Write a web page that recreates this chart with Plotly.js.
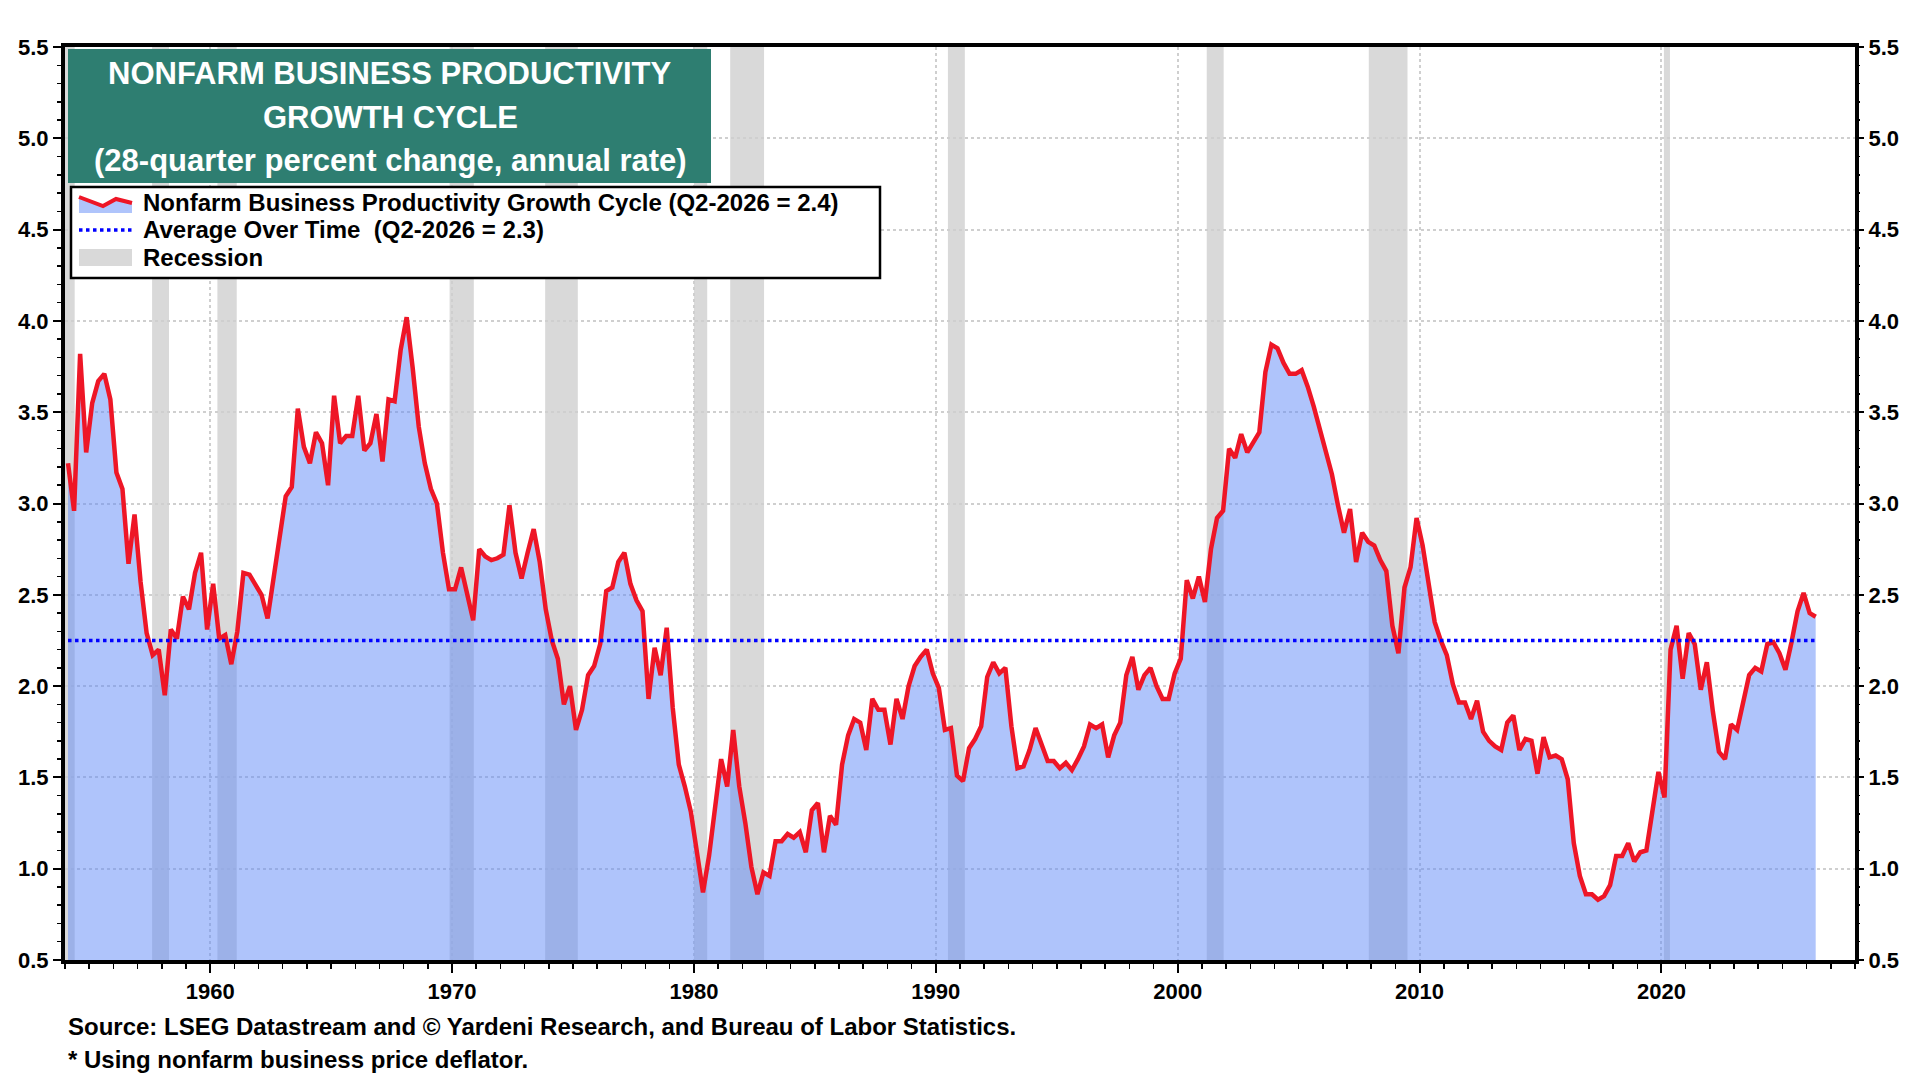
<!DOCTYPE html>
<html>
<head>
<meta charset="utf-8">
<script src="https://cdn.plot.ly/plotly-3.0.1.min.js"></script>
<style>
  html, body { margin: 0; padding: 0; background: #ffffff; }
  #chart { width: 1920px; height: 1080px; }
</style>
</head>
<body>
<div id="chart"></div>
<script>
// quarterly values, 28-quarter % change annual rate, Q1-1954 .. Q2-2026
var startYear = 1954;
var prod1950s = [3.22, 2.96, 3.82, 3.28, 3.55, 3.67, 3.71, 3.57, 3.17, 3.08, 2.67, 2.94,
                 2.57, 2.29, 2.17, 2.20, 1.95, 2.31, 2.26, 2.49, 2.42, 2.62, 2.73, 2.31];
var prod1960s = [2.56, 2.26, 2.28, 2.12, 2.30, 2.62, 2.61, 2.56, 2.50, 2.37, 2.59, 2.78,
                 3.04, 3.09, 3.52, 3.31, 3.22, 3.39, 3.33, 3.10, 3.59, 3.33, 3.37, 3.37,
                 3.59, 3.29, 3.33, 3.49, 3.23, 3.57, 3.56, 3.84, 4.02, 3.74, 3.42, 3.22,
                 3.08, 3.00, 2.73, 2.53];
var prod1970s = [2.53, 2.65, 2.50, 2.36, 2.75, 2.71, 2.69, 2.70, 2.72, 2.99, 2.73, 2.59,
                 2.73, 2.86, 2.68, 2.42, 2.25, 2.15, 1.90, 2.00, 1.76, 1.87, 2.06, 2.11,
                 2.23, 2.52, 2.54, 2.68, 2.73, 2.56, 2.47, 2.41, 1.93, 2.21, 2.06, 2.32,
                 1.88, 1.57, 1.45, 1.31];
var prod1980s = [1.09, 0.87, 1.07, 1.32, 1.60, 1.45, 1.76, 1.45, 1.25, 1.01, 0.86, 0.98,
                 0.96, 1.15, 1.15, 1.19, 1.17, 1.20, 1.09, 1.32, 1.36, 1.09, 1.29, 1.24,
                 1.57, 1.73, 1.82, 1.80, 1.65, 1.93, 1.87, 1.87, 1.68, 1.93, 1.82, 2.00,
                 2.11, 2.16, 2.20, 2.07];
var prod1990s = [1.99, 1.76, 1.77, 1.51, 1.48, 1.66, 1.71, 1.78, 2.05, 2.13, 2.07, 2.10,
                 1.78, 1.55, 1.56, 1.65, 1.77, 1.68, 1.59, 1.59, 1.55, 1.58, 1.54, 1.60,
                 1.67, 1.79, 1.77, 1.79, 1.61, 1.73, 1.80, 2.06, 2.16, 1.98, 2.06, 2.10,
                 2.00, 1.93, 1.93, 2.07];
var prod2000s = [2.15, 2.58, 2.48, 2.60, 2.46, 2.75, 2.92, 2.96, 3.30, 3.25, 3.38, 3.28,
                 3.34, 3.39, 3.72, 3.87, 3.85, 3.77, 3.71, 3.71, 3.73, 3.64, 3.53, 3.40,
                 3.27, 3.16, 2.99, 2.84, 2.97, 2.68, 2.84, 2.79, 2.77, 2.69, 2.63, 2.33,
                 2.18, 2.54, 2.65, 2.92];
var prod2010s = [2.77, 2.55, 2.35, 2.25, 2.17, 2.01, 1.91, 1.91, 1.82, 1.92, 1.75, 1.70,
                 1.67, 1.65, 1.80, 1.84, 1.65, 1.71, 1.70, 1.52, 1.72, 1.61, 1.62, 1.60,
                 1.49, 1.14, 0.96, 0.86, 0.86, 0.83, 0.85, 0.91, 1.07, 1.07, 1.14, 1.04,
                 1.09, 1.10, 1.32, 1.53];
var prod2020s = [1.39, 2.20, 2.33, 2.04, 2.29, 2.23, 1.98, 2.13, 1.86, 1.64, 1.60, 1.79,
                 1.76, 1.91, 2.06, 2.10, 2.08, 2.23, 2.24, 2.18, 2.09, 2.24, 2.41, 2.51,
                 2.40, 2.38];
var averageValue = 2.25;

// NBER recessions (decimal years)
var recStart = [1953.5, 1957.6, 1960.3, 1969.9, 1973.85, 1980.0, 1981.5, 1990.5, 2001.2, 2007.9, 2020.1];
var recEnd   = [1954.4, 1958.3, 1961.1, 1970.9, 1975.2, 1980.55, 1982.9, 1991.2, 2001.9, 2009.5, 2020.35];

var legendLabels = ['Nonfarm Business Productivity Growth Cycle (Q2-2026 = 2.4)',
                    'Average Over Time  (Q2-2026 = 2.3)',
                    'Recession'];
var titleLines = ['NONFARM BUSINESS PRODUCTIVITY', 'GROWTH CYCLE', '(28-quarter percent change, annual rate)'];
var noteLines = ['Source: LSEG Datastream and © Yardeni Research, and Bureau of Labor Statistics.',
                 '* Using nonfarm business price deflator.'];

var prodValues = [].concat(prod1950s, prod1960s, prod1970s, prod1980s, prod1990s, prod2000s, prod2010s, prod2020s);
var quarterX = prodValues.map(function (v, i) { return startYear + (i + 0.5) / 4; });
var quarterLabel = prodValues.map(function (v, i) {
  return 'Q' + (i % 4 + 1) + '-' + (startYear + Math.floor(i / 4));
});

var fontFamily = 'Arial, "Liberation Sans", sans-serif';
var lineRed = '#ee1626', fillBlue = 'rgba(95,137,247,0.5)', recGray = '#d9d9d9';

// plot area in pixels: x 65..1855, y 47..960 -> paper helpers for the boxes
function px(x) { return (x - 65) / 1790; }
function py(y) { return (960 - y) / 913; }

var traceProd = {
  x: quarterX, y: prodValues, text: quarterLabel,
  type: 'scatter', mode: 'lines', name: legendLabels[0],
  line: { color: lineRed, width: 4.5 },
  fill: 'tozeroy', fillcolor: fillBlue,
  hovertemplate: '%{text}: %{y:.2f}<extra></extra>'
};

var traceAvg = {
  x: [quarterX[0], quarterX[quarterX.length - 1]],
  y: [averageValue, averageValue],
  type: 'scatter', mode: 'lines', name: legendLabels[1],
  line: { color: '#0000ff', width: 3.5, dash: 'dot' },
  yaxis: 'y2'
};

var shapes = recStart.map(function (s, i) {
  return {
    type: 'rect', xref: 'x', yref: 'paper',
    x0: s, x1: recEnd[i], y0: 0, y1: 1,
    fillcolor: recGray, line: { width: 0 }, layer: 'below'
  };
});

// title box
shapes.push({
  type: 'rect', xref: 'paper', yref: 'paper',
  x0: px(68), x1: px(711), y0: py(183), y1: py(49),
  fillcolor: '#2e7e71', line: { width: 0 }, layer: 'above'
});

// legend box and its keys
shapes.push({
  type: 'rect', xref: 'paper', yref: 'paper',
  x0: px(71), x1: px(880), y0: py(278), y1: py(187),
  fillcolor: '#ffffff', line: { color: '#000000', width: 2.5 }, layer: 'above'
});
function pathOf(pts) {
  return pts.map(function (p, i) { return (i ? 'L' : 'M') + px(p[0]) + ',' + py(p[1]); }).join(' ');
}
var keyLine = [[79, 197], [103, 206], [116, 199], [132, 203]];
shapes.push({
  type: 'path', xref: 'paper', yref: 'paper', layer: 'above',
  path: pathOf(keyLine.concat([[132, 213], [79, 213]])) + ' Z',
  fillcolor: fillBlue, line: { width: 0 }
});
shapes.push({
  type: 'path', xref: 'paper', yref: 'paper', layer: 'above',
  path: pathOf(keyLine), line: { color: lineRed, width: 4 }
});
shapes.push({
  type: 'line', xref: 'paper', yref: 'paper', layer: 'above',
  x0: px(79), x1: px(132), y0: py(230), y1: py(230),
  line: { color: '#0000ff', width: 3.5, dash: 'dot' }
});
shapes.push({
  type: 'rect', xref: 'paper', yref: 'paper', layer: 'above',
  x0: px(79), x1: px(132), y0: py(266), y1: py(249),
  fillcolor: recGray, line: { width: 0 }
});

var titleFont = { family: fontFamily, size: 31, color: '#ffffff', weight: 'bold' };
var textFont = { family: fontFamily, size: 24, color: '#000000', weight: 'bold' };

var annotations = [];
[73, 117, 160].forEach(function (y, i) {
  annotations.push({ text: titleLines[i], x: px(390), y: py(y), xref: 'paper', yref: 'paper',
                     xanchor: 'center', yanchor: 'middle', showarrow: false, font: titleFont });
});
[203, 230, 257].forEach(function (y, i) {
  annotations.push({ text: legendLabels[i], x: px(141), y: py(y), xref: 'paper', yref: 'paper',
                     xanchor: 'left', yanchor: 'middle', showarrow: false, font: textFont });
});
[1026, 1059].forEach(function (y, i) {
  annotations.push({ text: noteLines[i], x: px(66), y: py(y), xref: 'paper', yref: 'paper',
                     xanchor: 'left', yanchor: 'middle', showarrow: false, font: textFont });
});

var tickFont = { family: fontFamily, size: 22, color: '#000000', weight: 'bold' };

var yCommon = {
  range: [0.5, 5.5], dtick: 0.5, tick0: 0.5, tickformat: '.1f',
  ticks: 'outside', ticklen: 8, tickwidth: 2, tickcolor: '#000000',
  minor: { dtick: 0.1, ticks: 'outside', ticklen: 4, tickwidth: 1.5, tickcolor: '#000000', showgrid: false },
  tickfont: tickFont, fixedrange: true
};

var layout = {
  width: 1920, height: 1080,
  margin: { l: 65, r: 65, t: 47, b: 120 },
  paper_bgcolor: '#ffffff', plot_bgcolor: '#ffffff',
  showlegend: false,
  xaxis: {
    range: [1954, 2028],
    tickvals: [1960, 1970, 1980, 1990, 2000, 2010, 2020],
    ticks: 'outside', ticklen: 9, tickwidth: 2, tickcolor: '#000000',
    minor: { dtick: 1, tick0: 1954, ticks: 'outside', ticklen: 5, tickwidth: 1.5, tickcolor: '#000000', showgrid: false },
    showgrid: true, gridcolor: '#cfcfcf', gridwidth: 2, griddash: 'dot',
    showline: true, linecolor: '#000000', linewidth: 4, mirror: true,
    zeroline: false, tickfont: tickFont, ticklabelstandoff: 0, fixedrange: true
  },
  yaxis: Object.assign({}, yCommon, {
    side: 'left',
    showgrid: true, gridcolor: '#cfcfcf', gridwidth: 2, griddash: 'dot',
    showline: true, linecolor: '#000000', linewidth: 4, mirror: true,
    zeroline: false
  }),
  yaxis2: Object.assign({}, yCommon, {
    overlaying: 'y', side: 'right',
    showgrid: false, showline: false, zeroline: false
  }),
  shapes: shapes,
  annotations: annotations
};

Plotly.newPlot('chart', [traceProd, traceAvg], layout, { displayModeBar: false, staticPlot: true });
</script>
</body>
</html>
